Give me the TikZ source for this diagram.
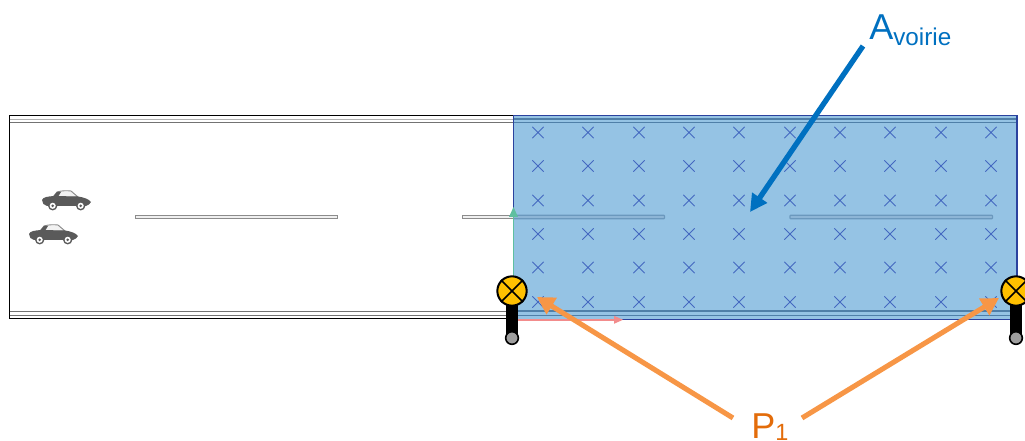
\documentclass[tikz,border=0pt]{standalone}
\usepackage{fontspec}
\setmainfont{Liberation Sans}
\usetikzlibrary{shapes.misc,arrows.meta}
\definecolor{zonefill}{HTML}{95C3E4}
\definecolor{zoneedge}{HTML}{2B429E}
\definecolor{zoneline}{HTML}{4F7FA8}
\definecolor{zonebar}{HTML}{6B98BD}
\definecolor{zonebarin}{HTML}{8DB5D6}
\definecolor{crossblue}{HTML}{4468C0}
\definecolor{callblue}{HTML}{0070C0}
\definecolor{callorange}{HTML}{F79646}
\definecolor{textorange}{HTML}{E36C0A}
\definecolor{cargray}{HTML}{5A5A5A}
\definecolor{lampyellow}{HTML}{FFC000}
\definecolor{axisg}{HTML}{5FBFA0}
\definecolor{axisr}{HTML}{F28C8C}
\tikzset{
  x=0.75pt,y=-0.75pt,
  roadline/.style={draw=black,line width=0.75pt},
  grayline/.style={draw=black!55,line width=0.75pt},
  faintline/.style={draw=black!30,line width=0.6pt},
  zoneroad/.style={draw=zoneline,line width=0.8pt},
  dashbar/.style={draw=black!45,fill=black!6,line width=0.75pt,minimum width=151.5pt,minimum height=2.6pt,inner sep=0pt},
  zonedash/.style={draw=zonebar,fill=zonebarin,line width=0.9pt},
  xmark/.style={cross out,draw=crossblue,line width=0.55pt,minimum size=8pt,inner sep=0pt},
  zone/.style={fill=zonefill,draw=none},
  lamp/.style={circle,draw=black,fill=lampyellow,line width=1.5pt,minimum size=22pt,inner sep=0pt},
  lampbase/.style={circle,draw=black,fill=black!38,line width=1.2pt,minimum size=9.5pt,inner sep=0pt},
  lamppost/.style={draw=black,line width=9pt},
  lampx/.style={draw=black,line width=1.2pt},
  bluecall/.style={draw=callblue,line width=4pt,-{Triangle[length=13pt,width=13pt]}},
  orangecall/.style={draw=callorange,line width=3.8pt,-{Triangle[length=13pt,width=14pt]}},
  bluetext/.style={text=callblue,inner sep=0pt,anchor=base west,font=\fontsize{27}{27}\selectfont},
  orangetext/.style={text=textorange,inner sep=0pt,anchor=base west,font=\fontsize{27}{27}\selectfont},
  axisgreen/.style={draw=axisg,line width=1.2pt},
  axisred/.style={draw=axisr,line width=1.2pt},
  axisgreentip/.style={fill=axisg,draw=none},
  axisredtip/.style={fill=axisr,draw=none},
  carbody/.style={fill=cargray,draw=none},
  carroof/.style={draw=black!45,fill=black!5,line width=0.7pt},
  wheelout/.style={circle,fill=cargray,draw=none,minimum size=7pt,inner sep=0pt},
  wheelring/.style={circle,fill=white,draw=none,minimum size=4.6pt,inner sep=0pt},
  wheelhub/.style={circle,fill=cargray,draw=none,minimum size=2.2pt,inner sep=0pt},
  pics/roadcar/.style={code={
    \path[carroof] (11,7) -- (15,2) .. controls (20,0.5) and (25,0.5) .. (29,1) -- (36,7) -- cycle;
    \path[carbody] (11,7) -- (15,2) -- (19,2) -- (16,7) -- cycle;
    \path[carbody] (0,10) .. controls (1,7) and (6,6.5) .. (12,6) -- (36,6.5) .. controls (42,7.5) and (47,9) .. (49,12) .. controls (48,14) and (46,15.5) .. (44,16) -- (5,16) .. controls (2,15.5) and (0,13) .. (0,10) -- cycle;
    \foreach \wx in {10.7,38.7}{
      \node[wheelout] at (\wx,15.8) {};
      \node[wheelring] at (\wx,15.8) {};
      \node[wheelhub] at (\wx,15.8) {};
    }
  }}
}
\begin{document}
\begin{tikzpicture}
\useasboundingbox (0,0) rectangle (1025,441);
\clip (0,0) rectangle (1025,441);
% road edges
\draw[roadline] (1017,115.5) -- (9.5,115.5) -- (9.5,319) -- (513.5,319);
\draw[faintline] (9.5,119.5) -- (1017,119.5);
\draw[grayline] (9.5,122.5) -- (1017,122.5);
\draw[grayline] (9.5,311.5) -- (1017,311.5);
\draw[grayline] (9.5,315.5) -- (1017,315.5);
% centre dashes
\node[dashbar] (d1) at (236.5,217) {};
\node[dashbar] (d2) at (563.5,217) {};
\node[dashbar] (d3) at (891,217) {};
% cars
\pic at (42,190) {roadcar};
\pic at (29,224) {roadcar};
% zone
\path[zone] (513.5,115.5) rectangle (1017,319);
\draw[zoneroad] (513.5,119) -- (1017.5,119);
\draw[zoneroad] (513.5,122.5) -- (1017.5,122.5);
\draw[zoneroad] (513.5,311) -- (1017.5,311);
\draw[zoneroad] (513.5,315.5) -- (1017.5,315.5);
\draw[zonedash,rounded corners=0.5pt] (513.5,215.2) -- (664.5,215.2) -- (664.5,218.8) -- (513.5,218.8);
\draw[zonedash,rounded corners=0.5pt] (790,215.2) rectangle (992.5,218.8);
\draw[zoneedge,line width=0.8pt] (620,319.5) -- (1017,319.5) -- (1017,115.5) -- (513.5,115.5) -- (513.5,212);
% axes
\coordinate (o) at (513.5,319.8);
\coordinate (ay) at (513.5,215);
\coordinate (ax) at (614,319.8);
\draw[axisgreen] (o) -- (ay);
\draw[axisred] (o) -- (ax);
\path[axisgreentip] (ay) ++(-4.5,2) -- ++(4.5,-10) -- ++(4.5,10) -- cycle;
\path[axisredtip] (ax) ++(0,-4) -- ++(9,4) -- ++(-9,4) -- cycle;
% crosses
\foreach \cx [count=\i] in {538,588,639,689,739,790,840,890,941,991}
  \foreach \cy [count=\j] in {132.5,166,200.5,234,267.5,302}
    \node[xmark] (m\i-\j) at (\cx,\cy) {};
% lamps
\foreach \lx/\ln in {512/a,1016/b}{
  \coordinate (post\ln) at (\lx,300);
  \coordinate (foot\ln) at (\lx,338);
  \draw[lamppost] (post\ln) -- (foot\ln);
  \node[lampbase] (base\ln) at (foot\ln) {};
  \node[lamp] (lamp\ln) at (\lx,291) {};
  \draw[lampx] (lamp\ln.45) -- (lamp\ln.225);
  \draw[lampx] (lamp\ln.135) -- (lamp\ln.315);
}
% labels
\node[bluetext] (avoirie) at (869,40) {A\raisebox{-3.8pt}{\fontsize{18.2}{18.2}\selectfont voirie}};
\node[orangetext] (pone) at (751,439) {P\raisebox{-1.4pt}{\fontsize{17.6}{17.6}\selectfont 1}};
% callouts
\coordinate (bstart) at (863,46);
\coordinate (bend) at (750,212);
\coordinate (ostartl) at (733,418);
\coordinate (oendl) at (537,297);
\coordinate (ostartr) at (802,418);
\coordinate (oendr) at (999,298);
\draw[bluecall] (bstart) -- (bend);
\draw[orangecall] (ostartl) -- (oendl);
\draw[orangecall] (ostartr) -- (oendr);
\end{tikzpicture}
\end{document}
